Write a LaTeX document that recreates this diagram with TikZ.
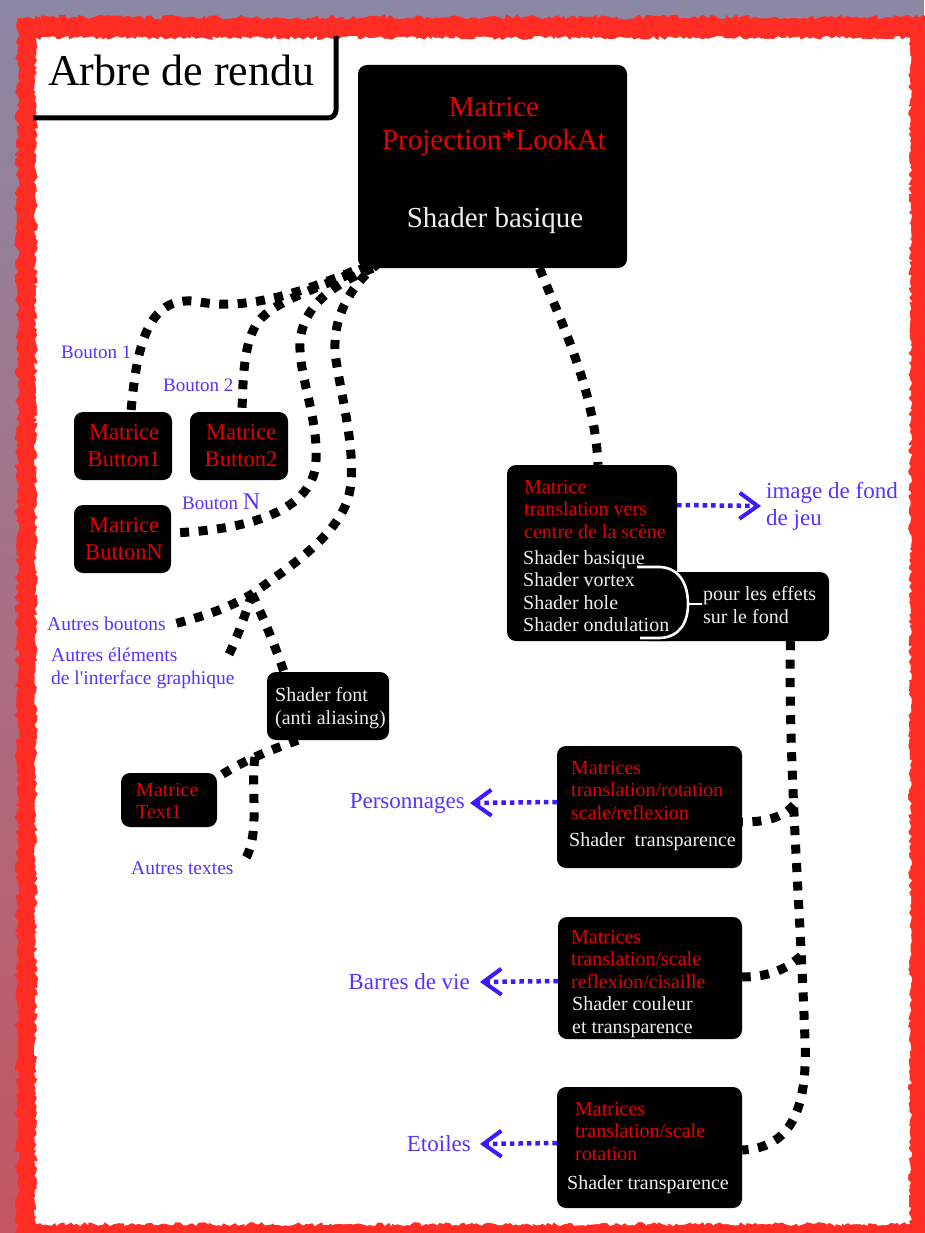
\documentclass[tikz,border=0pt]{standalone}
\usepackage{fontspec}
\setmainfont{Liberation Serif}
\usetikzlibrary{arrows.meta,decorations.pathmorphing}
\definecolor{mred}{RGB}{230,0,0}
\definecolor{mwhite}{RGB}{238,238,238}
\definecolor{mblue}{RGB}{88,50,255}
\definecolor{ablue}{RGB}{60,25,255}
\definecolor{frame}{RGB}{255,45,35}
\definecolor{bgtop}{RGB}{140,136,164}
\definecolor{bgbot}{RGB}{196,86,98}
\pgfdeclarelayer{backdrop}
\pgfdeclarelayer{links}
\pgfsetlayers{backdrop,links,main}
\pgfmathsetseed{7}
% straight apostrophe, bypassing the TeX quote mapping
\newcommand{\straightquote}{\XeTeXglyph\XeTeXcharglyph"0027\relax}
\begin{document}
\begin{tikzpicture}[x=1pt,y=-1pt,
  box/.style={fill=black, rounded corners=9pt, inner sep=0pt},
  redtxt/.style={text=mred, align=left, inner sep=0pt, anchor=west, font=\fontsize{20}{22.5}\selectfont},
  whtxt/.style={redtxt, text=mwhite},
  btntxt/.style={text=mred, align=center, inner sep=0pt, font=\fontsize{22.5}{27}\selectfont},
  lbl/.style={text=mblue, inner sep=0pt, align=left, font=\fontsize{19}{23}\selectfont},
  biglbl/.style={lbl, font=\fontsize{23}{27}\selectfont},
  dotline/.style={draw=black, line width=9pt, dash pattern=on 9pt off 9.5pt},
  barrow/.style={draw=ablue, line width=4.5pt, dash pattern=on 4.5pt off 4pt,
    -{Straight Barb[length=18pt,width=26pt,line width=4pt]}}]
\useasboundingbox (0,0) rectangle (924,1233);

% page backdrop and torn red frame
\begin{pgfonlayer}{backdrop}
  \shade[top color=bgtop, bottom color=bgbot] (0,0) rectangle (924,1233);
  \fill[frame, decorate, decoration={random steps, segment length=4pt, amplitude=2.5pt}]
    (17,17) rectangle (940,1250);
  \fill[white, decorate, decoration={random steps, segment length=3pt, amplitude=2pt}]
    (36,38) rectangle (910,1224);
  % title tab
  \draw[line width=5pt, rounded corners=8pt] (33,118) -- (336,118) -- (336,36);
\end{pgfonlayer}

\node[inner sep=0pt, anchor=west, font=\fontsize{44}{48}\selectfont] (title) at (48,70) {Arbre de rendu};

% boxes
\node[box, minimum width=269pt, minimum height=203pt] (main) at (492.5,166.5) {};
\node[box, minimum width=98pt, minimum height=68pt] (b1) at (123,446) {};
\node[box, minimum width=98pt, minimum height=68pt] (b2) at (239,446) {};
\node[box, minimum width=97pt, minimum height=68pt] (bN) at (122.5,539) {};
\node[box, minimum width=170pt, minimum height=176pt] (trans) at (592,553) {};
\node[box, minimum width=189pt, minimum height=69pt] (fx) at (734.5,606.5) {};
\node[box, minimum width=122pt, minimum height=68pt] (font) at (328,706) {};
\node[box, minimum width=96pt, minimum height=54pt] (text1) at (169,800) {};
\node[box, minimum width=185pt, minimum height=122pt] (pers) at (649.5,807) {};
\node[box, minimum width=184pt, minimum height=122pt] (barres) at (650,978) {};
\node[box, minimum width=185pt, minimum height=121pt] (etoiles) at (649.5,1147.5) {};

% box texts
\node[text=mred, align=center, inner sep=0pt, font=\fontsize{29}{33}\selectfont] (mproj) at (494,126) {Matrice\\Projection*LookAt};
\node[text=mwhite, inner sep=0pt, font=\fontsize{29}{33}\selectfont] (mshad) at (495,221) {Shader basique};
\node[btntxt] (t1) at (124,446) {Matrice\\Button1};
\node[btntxt] (t2) at (241,446) {Matrice\\Button2};
\node[btntxt] (tN) at (124,539) {Matrice\\ButtonN};
\node[redtxt] (trmat) at (524,509) {Matrice\\translation vers\\centre de la scène};
\node[whtxt] (trsh) at (523,591) {Shader basique\\Shader vortex\\Shader hole\\Shader ondulation};
\node[whtxt] (fxtxt) at (703,605) {pour les effets\\sur le fond};
\node[whtxt] (fonttxt) at (275,708) {Shader font\\(anti aliasing)};
\node[redtxt] (t1txt) at (136,801) {Matrice\\Text1};
\node[redtxt] (pmat) at (571,790) {Matrices\\translation/rotation\\scale/reflexion};
\node[whtxt] (psh) at (569,842) {Shader~ transparence};
\node[redtxt] (bmat) at (571,959) {Matrices\\translation/scale\\reflexion/cisaille};
\node[whtxt] (bsh) at (572,1017) {Shader couleur\\et transparence};
\node[redtxt] (emat) at (575,1131) {Matrices\\translation/scale\\rotation};
\node[whtxt] (esh) at (567,1185) {Shader transparence};

% brace grouping the background effect shaders
\draw[white, line width=2.6pt] (637,567) -- (660,567) .. controls (680,568) and (688,585) .. (688,604)
  .. controls (688,622) and (680,637) .. (660,638) -- (640,638);
\draw[white, line width=2.6pt] (688,604) -- (702,604);

% blue labels
\node[lbl, anchor=west] (lb1) at (61,352) {Bouton 1};
\node[lbl, anchor=west] (lb2) at (163,385) {Bouton 2};
\node[lbl, anchor=west] (lbN) at (182,502) {Bouton {\fontsize{24}{24}\selectfont N}};
\node[lbl, anchor=west, font=\fontsize{19.5}{23}\selectfont] (lautb) at (47,624) {Autres boutons};
\node[lbl, anchor=west, font=\fontsize{19.5}{23}\selectfont] (lautel) at (51,668) {Autres éléments\\de l\straightquote interface graphique};
\node[lbl, anchor=west, font=\fontsize{19.5}{23}\selectfont] (lautt) at (131,868) {Autres textes};
\node[biglbl, anchor=west] (limg) at (766,506) {image de fond\\de jeu};
\node[biglbl, anchor=east] (lpers) at (465,803) {Personnages};
\node[biglbl, anchor=east] (lbarres) at (470,982) {Barres de vie};
\node[biglbl, anchor=east] (letoiles) at (471,1144) {Etoiles};

% junctions on the branches
\coordinate (J) at (252,594);
\coordinate (E1) at (226,660);
\coordinate (K) at (255,757);
\coordinate (J2) at (794,805);
\coordinate (J3) at (801,956);

% dotted tree links
\begin{pgfonlayer}{links}
  \draw[dotline] ([xshift=12pt,yshift=4pt]main.south west) .. controls (320,285) and (255,312) .. (200,302)
    .. controls (150,293) and (137,340) .. ([xshift=8pt]b1.north);
  \draw[dotline] ([xshift=10pt,yshift=2pt]main.south west) .. controls (320,288) and (275,300) .. (258,322)
    .. controls (245,340) and (243,370) .. ([xshift=3pt]b2.north);
  \draw[dotline] ([xshift=15pt]main.south west) .. controls (330,285) and (298,310) .. (300,350)
    .. controls (301,380) and (318,420) .. (316,460)
    .. controls (315,510) and (250,530) .. ([yshift=6pt]bN.east);
  \draw[dotline] ([xshift=22pt,yshift=6pt]main.south west) .. controls (350,285) and (330,320) .. (336,360)
    .. controls (342,400) and (356,450) .. (350,490)
    .. controls (343,530) and (300,560) .. (J)
    .. controls (225,610) and (200,617) .. ([xshift=8pt]lautb.east);
  \draw[dotline] (J) .. controls (245,615) and (236,642) .. (E1);
  \draw[dotline] (J) .. controls (262,615) and (275,645) .. ([xshift=-44pt]font.north);
  \draw[dotline] ([xshift=-30pt]font.south) .. controls (270,750) and (240,762) .. ([yshift=-5pt]text1.north east);
  \draw[dotline] (K) .. controls (250,790) and (262,840) .. ([xshift=8pt,yshift=4pt]lautt.east);
  \draw[dotline] ([xshift=47pt]main.south) .. controls (560,320) and (595,390) .. ([xshift=6pt]trans.north);
  \draw[dotline] ([xshift=56pt]fx.south) .. controls (788,760) and (800,900) .. (805,1040)
    .. controls (808,1110) and (790,1148) .. ([yshift=-2.5pt]etoiles.east);
  \draw[dotline] (J2) .. controls (782,818) and (765,822) .. ([yshift=-15pt]pers.east);
  \draw[dotline] (J3) .. controls (788,968) and (770,977) .. ([yshift=1pt]barres.east);
\end{pgfonlayer}

% blue output arrows
\draw[barrow] ([yshift=48pt]trans.east) -- ([xshift=-5pt]limg.west);
\draw[barrow] ([yshift=5pt]pers.west) -- ([xshift=5pt]lpers.east);
\draw[barrow] ([yshift=-3pt]barres.west) -- ([xshift=10pt]lbarres.east);
\draw[barrow] ([yshift=4.5pt]etoiles.west) -- ([xshift=9pt]letoiles.east);
\end{tikzpicture}
\end{document}
